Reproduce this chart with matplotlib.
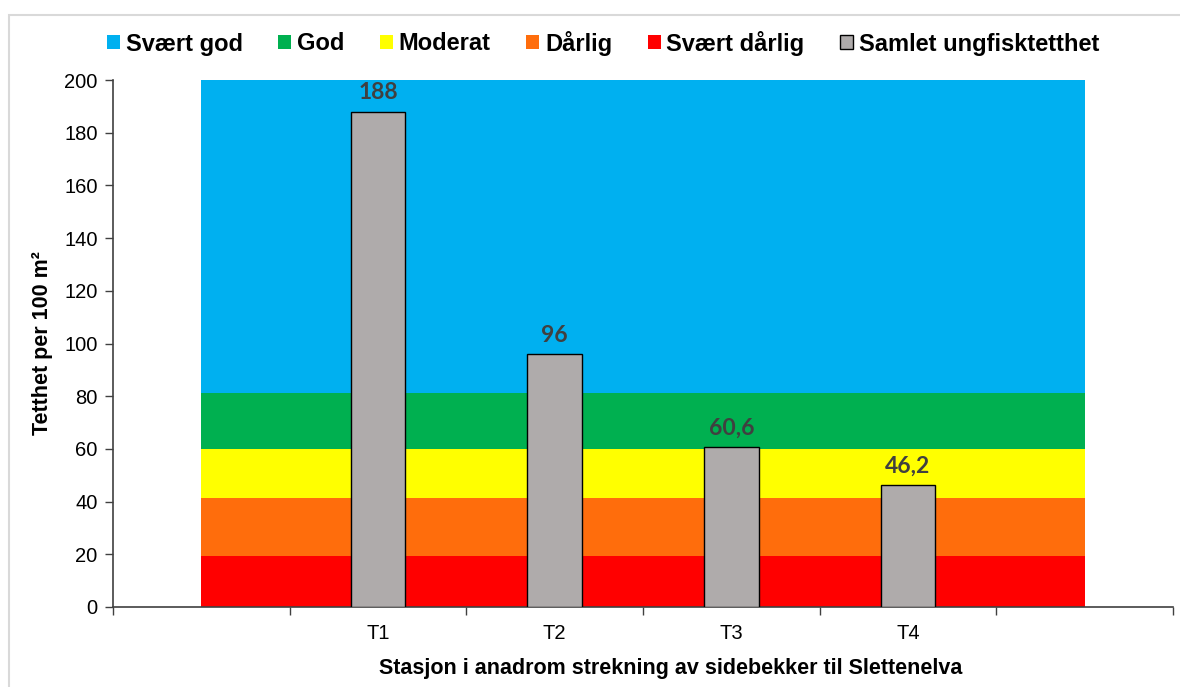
import matplotlib.pyplot as plt
from matplotlib.patches import Rectangle, Patch
import numpy as np

# data
categories = ["", "T1", "T2", "T3", "T4", ""]
stations = ["T1", "T2", "T3", "T4"]
density = [188, 96, 60.6, 46.2]
density_labels = ["188", "96", "60,6", "46,2"]

class_names = ["Svært dårlig", "Dårlig", "Moderat", "God", "Svært god"]
class_tops = [19.2, 41.3, 60.1, 81.3, 200]
class_colors = ["#ff0000", "#ff6d0c", "#ffff00", "#00b050", "#00b0f0"]

plt.rcParams["font.family"] = ["Liberation Sans", "DejaVu Sans"]

fig = plt.figure(figsize=(11.8, 6.87), dpi=100)
ax = fig.add_axes([113 / 1180, 1 - 607 / 687, 1060 / 1180, 527 / 687])

# outer chart border
fig.patches.append(Rectangle((8.5 / 1180, -0.1), 1.2, 1 - 14.5 / 687 + 0.1,
                             transform=fig.transFigure, fill=False,
                             edgecolor="#d9d9d9", linewidth=1.5))

x = np.arange(len(categories))
bottom = 0
for name, top, color in zip(class_names, class_tops, class_colors):
    ax.fill_between(x, bottom, top, color=color, linewidth=0, zorder=1)
    bottom = top

bar_x = [categories.index(s) for s in stations]
ax.bar(bar_x, density, width=0.31, color="#afabab", edgecolor="black",
       linewidth=1, zorder=3)
for bx, val, lab in zip(bar_x, density, density_labels):
    ax.text(bx, val + 3.2, lab, ha="center", va="bottom", fontsize=16.5,
            fontweight="bold", color="#404040", family=["Lato", "DejaVu Sans"],
            zorder=4)

ax.set_xlim(-0.5, len(categories) - 0.5)
ax.set_ylim(0, 200)
ax.set_yticks(range(0, 201, 20))
ax.set_xticks(x[1:-1])
ax.set_xticklabels(categories[1:-1])
ax.set_xticks(np.arange(-0.5, len(categories), 1), minor=True)
ax.tick_params(axis="x", which="major", length=0, pad=12, labelsize=14.5)
ax.tick_params(axis="x", which="minor", length=6, direction="out",
               width=1, color="#404040")
ax.tick_params(axis="y", length=6, direction="out", width=1,
               color="#404040", labelsize=14.5, pad=5)

for side in ["top", "right"]:
    ax.spines[side].set_visible(False)
for side in ["left", "bottom"]:
    ax.spines[side].set_color("#404040")
    ax.spines[side].set_linewidth(1.2)

ax.set_ylabel("Tetthet per 100 m²", fontsize=15.5, fontweight="bold",
              labelpad=8)
ax.set_xlabel("Stasjon i anadrom strekning av sidebekker til Slettenelva",
              fontsize=15.5, fontweight="bold", labelpad=11)
ax.xaxis.label.set_x(0.526)

handles = [Patch(facecolor=c, edgecolor="none", label=n)
           for n, c in zip(class_names, class_colors)][::-1]
handles.append(Patch(facecolor="#afabab", edgecolor="black",
                     label="Samlet ungfisktetthet"))
fig.legend(handles=handles, loc="center", bbox_to_anchor=(603 / 1180, 1 - 43 / 687),
           ncol=6, frameon=False,
           prop={"weight": "bold", "size": 17},
           handlelength=0.55, handleheight=0.55, handletextpad=0.25,
           columnspacing=1.5)

fig.savefig("out.png", dpi=100)
